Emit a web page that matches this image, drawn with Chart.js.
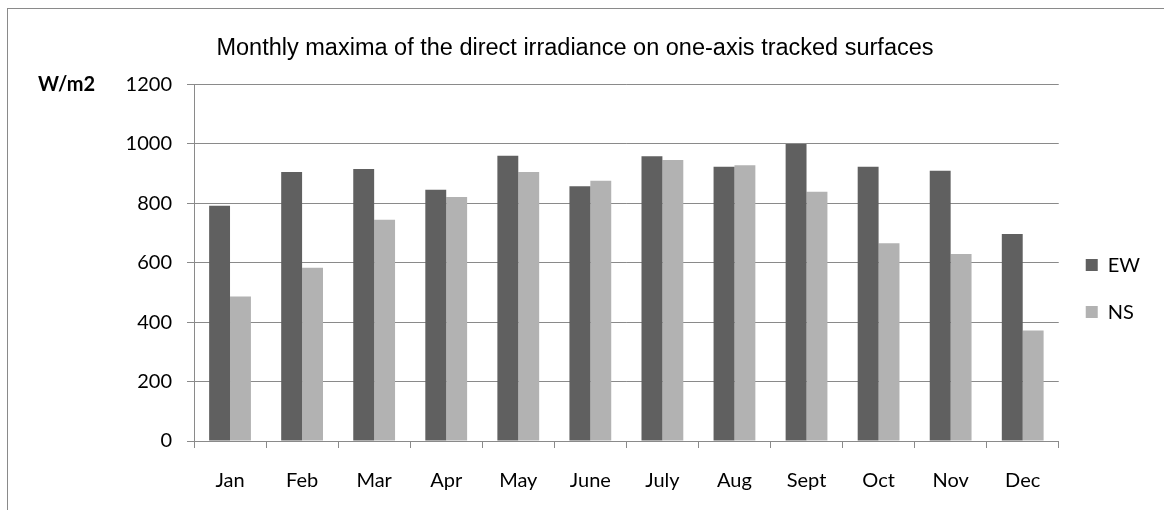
<!DOCTYPE html>
<html>
<head>
<meta charset="utf-8">
<script src="https://cdn.jsdelivr.net/npm/chart.js@4"></script>
<style>
  body { margin: 0; background: #fff; }
  #wrap { position: relative; width: 1164px; height: 510px; overflow: hidden; }
  #frame { position: absolute; left: 7px; top: 8px; width: 1300px; height: 700px; border: 1px solid #8a8a8a; }
  #chartBox { position: absolute; left: 0; top: 0; width: 1164px; height: 510px; }
</style>
</head>
<body>
<div id="wrap">
  <div id="frame"></div>
  <div id="chartBox"><canvas id="myChart"></canvas></div>
</div>
<script>
const months = ['Jan', 'Feb', 'Mar', 'Apr', 'May', 'June', 'July', 'Aug', 'Sept', 'Oct', 'Nov', 'Dec'];
const ewValues = [791, 905, 915, 845, 959, 857, 958, 922, 999, 922, 909, 696];
const nsValues = [486, 583, 744, 821, 905, 875, 945, 927, 838, 665, 629, 372];
const yTicks = [0, 200, 400, 600, 800, 1000, 1200];
const unitLabel = 'W/m2';
const chartTitle = 'Monthly maxima of the direct irradiance on one-axis tracked surfaces';

const gridColor = '#8a8a8a';

// draws the unit text left of the top y tick
const unitPlugin = {
  id: 'unitLabel',
  afterDraw(chart) {
    const y = chart.scales.y;
    const c = chart.ctx;
    c.save();
    c.font = 'bold 20px Lato';
    c.fillStyle = '#000';
    c.textAlign = 'left';
    c.textBaseline = 'middle';
    c.fillText(unitLabel, 38, y.getPixelForValue(yTicks[yTicks.length - 1]));
    c.restore();
  }
};

const ctx = document.getElementById('myChart').getContext('2d');
const myChart = new Chart(ctx, {
  type: 'bar',
  data: {
    labels: months,
    datasets: [
      { label: 'EW', data: ewValues, backgroundColor: '#606060' },
      { label: 'NS', data: nsValues, backgroundColor: '#b2b2b2' }
    ]
  },
  options: {
    responsive: true,
    maintainAspectRatio: false,
    animation: false,
    categoryPercentage: 0.58,
    barPercentage: 1,
    layout: { padding: { left: 0, right: 14, top: 0, bottom: 0 } },
    scales: {
      x: {
        afterFit(scale) { scale.height = 69; },
        border: { color: gridColor, width: 1 },
        grid: { drawOnChartArea: false, drawTicks: true, tickLength: 7, color: gridColor, offset: true },
        ticks: { color: '#000', font: { family: 'Lato', size: 20 }, padding: 21 }
      },
      y: {
        min: 0,
        max: 1200,
        afterFit(scale) { scale.width = 194; },
        afterBuildTicks(scale) { scale.ticks = yTicks.map(v => ({ value: v })); },
        border: { color: gridColor, width: 1 },
        grid: { color: gridColor, lineWidth: 1, tickLength: 7 },
        ticks: { color: '#000', font: { family: 'Lato', size: 20 }, padding: 15, callback: v => String(v) }
      }
    },
    plugins: {
      title: {
        display: true,
        text: chartTitle,
        color: '#000',
        font: { family: 'Liberation Sans', size: 23.5, weight: 'normal' },
        padding: { top: 34, bottom: 22 }
      },
      legend: {
        position: 'right',
        title: { display: true, text: '', font: { size: 1 }, padding: { top: 66, bottom: 0 } },
        labels: {
          color: '#000',
          font: { family: 'Lato', size: 20 },
          boxWidth: 12,
          boxHeight: 12,
          padding: 27
        }
      },
      tooltip: { enabled: false }
    }
  },
  plugins: [unitPlugin]
});
</script>
</body>
</html>
